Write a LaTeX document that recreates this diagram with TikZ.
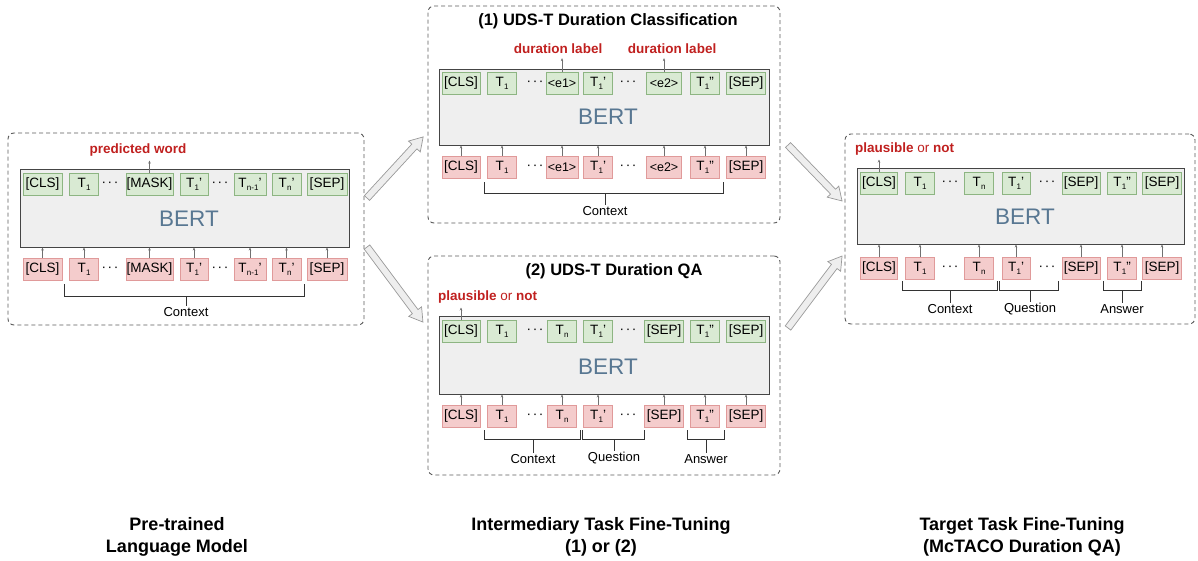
\documentclass[tikz,border=0pt]{standalone}
\usepackage{fontspec}
\setmainfont{Liberation Sans}
\usetikzlibrary{arrows.meta,calc}
\definecolor{gfill}{HTML}{D9EAD3}
\definecolor{gline}{HTML}{8DB582}
\definecolor{pfill}{HTML}{F4CCCC}
\definecolor{pline}{HTML}{E09A9A}
\definecolor{bfill}{HTML}{EFEFEF}
\definecolor{bline}{HTML}{454545}
\definecolor{btxt}{HTML}{587792}
\definecolor{lred}{HTML}{C0201F}
\definecolor{dgray}{HTML}{5A5A5A}
\definecolor{sgray}{HTML}{707070}
\definecolor{agray}{HTML}{999999}
\definecolor{afill}{HTML}{EEEEEE}
\newcommand{\Tsub}[1]{T\kern0.3pt\raisebox{-3.2pt}{\fontsize{8}{8}\selectfont #1}}
\newcommand{\tdots}{·\kern1.6pt·\kern1.6pt·}
\begin{document}
\begin{tikzpicture}[x=1pt,y=-1pt,
  every node/.style={inner sep=1pt},
  panel/.style={draw=dgray, line width=0.9pt, dash pattern=on 4pt off 3pt, rounded corners=6pt},
  bert/.style={draw=bline, fill=bfill, line width=0.9pt},
  berttxt/.style={text=btxt, font=\fontsize{22.5}{24}\selectfont},
  gtok/.style={draw=gline, fill=gfill, line width=0.8pt, minimum height=22, inner sep=0pt, font=\fontsize{13.5}{15}\selectfont},
  ptok/.style={draw=pline, fill=pfill, line width=0.8pt, minimum height=22, inner sep=0pt, font=\fontsize{13.5}{15}\selectfont},
  etok/.style={font=\fontsize{12.5}{14}\selectfont},
  dotsnode/.style={font=\fontsize{13.5}{15}\selectfont},
  sarr/.style={draw=sgray, line width=0.5pt, -{Stealth[length=3pt,width=2.5pt]}},
  redlab/.style={text=lred, font=\fontsize{13.5}{15}\selectfont\bfseries},
  title/.style={font=\fontsize{16.5}{18}\selectfont\bfseries},
  brk/.style={draw=black!80, line width=0.8pt},
  brklab/.style={font=\fontsize{13}{15}\selectfont},
  bottomlab/.style={align=center, font=\fontsize{18}{22}\selectfont\bfseries},
  bigarrow/.style={draw=agray, fill=afill, line width=0.7pt, line join=miter}
]
\useasboundingbox (0,0) rectangle (1198,560);

% ================= Left panel =================
\node[panel, minimum width=356, minimum height=192] (Lpanel) at (186,229) {};
\node[bert, minimum width=329, minimum height=78] (Lbert) at (184.5,208) {};
\node[berttxt] (Lbt) at (189,219) {BERT};
\node[gtok, minimum width=39] (Lg1) at (42.5,184.5) {[CLS]};
\node[gtok, minimum width=29] (Lg2) at (84,184.5) {\Tsub{1}};
\node[dotsnode] (Lgd1) at (110,184.5) {\tdots};
\node[gtok, minimum width=47] (Lg3) at (149.5,184.5) {[MASK]};
\node[gtok, minimum width=28] (Lg4) at (194,184.5) {\Tsub{1}’};
\node[dotsnode] (Lgd2) at (220,184.5) {\tdots};
\node[gtok, minimum width=32] (Lg5) at (250,184.5) {\Tsub{n-1}’};
\node[gtok, minimum width=29] (Lg6) at (286.5,184.5) {\Tsub{n}’};
\node[gtok, minimum width=40] (Lg7) at (327,184.5) {[SEP]};
\node[ptok, minimum width=39] (Lp1) at (42.5,269) {[CLS]};
\node[ptok, minimum width=29] (Lp2) at (84,269) {\Tsub{1}};
\node[dotsnode] (Lpd1) at (110,269) {\tdots};
\node[ptok, minimum width=47] (Lp3) at (149.5,269) {[MASK]};
\node[ptok, minimum width=28] (Lp4) at (194,269) {\Tsub{1}’};
\node[dotsnode] (Lpd2) at (220,269) {\tdots};
\node[ptok, minimum width=32] (Lp5) at (250,269) {\Tsub{n-1}’};
\node[ptok, minimum width=29] (Lp6) at (286.5,269) {\Tsub{n}’};
\node[ptok, minimum width=40] (Lp7) at (327,269) {[SEP]};
\foreach \i in {1,...,7} \draw[sarr] (Lp\i.north) -- (Lp\i.north |- Lbert.south);
\node[redlab] (Lpred) at (138,150) {predicted word};
\draw[sarr] (Lg3.north) -- ([yshift=-3pt]Lg3.north |- Lpred.south);
\node[brklab] (Lctx) at (186,312) {Context};
\draw[brk] (64,284) -- (64,296) -- (304,296) -- (304,284);
\draw[brk] (Lctx.north |- 0,296) -- (Lctx.north);

% ================= Middle top panel =================
\node[panel, minimum width=352, minimum height=217] (Apanel) at (604,114.5) {};
\node[title] (Atitle) at (608,21) {(1) UDS-T Duration Classification};
\node[bert, minimum width=330, minimum height=76] (Abert) at (604,107) {};
\node[berttxt] (Abt) at (608,117) {BERT};
\node[gtok, minimum width=38] (Ag1) at (461,83) {[CLS]};
\node[gtok, minimum width=29] (Ag2) at (502,83) {\Tsub{1}};
\node[dotsnode] (Agd1) at (535,83) {\tdots};
\node[gtok, etok, minimum width=32] (Ag3) at (562,83) {<e1>};
\node[gtok, minimum width=29] (Ag4) at (598,83) {\Tsub{1}’};
\node[dotsnode] (Agd2) at (628,83) {\tdots};
\node[gtok, etok, minimum width=35] (Ag5) at (664,83) {<e2>};
\node[gtok, minimum width=29] (Ag6) at (705,83) {\Tsub{1}”};
\node[gtok, minimum width=39] (Ag7) at (746,83) {[SEP]};
\node[ptok, minimum width=38] (Ap1) at (461,167) {[CLS]};
\node[ptok, minimum width=29] (Ap2) at (502,167) {\Tsub{1}};
\node[dotsnode] (Apd1) at (535,167) {\tdots};
\node[ptok, etok, minimum width=32] (Ap3) at (562,167) {<e1>};
\node[ptok, minimum width=29] (Ap4) at (598,167) {\Tsub{1}’};
\node[dotsnode] (Apd2) at (628,167) {\tdots};
\node[ptok, etok, minimum width=35] (Ap5) at (664,167) {<e2>};
\node[ptok, minimum width=29] (Ap6) at (705,167) {\Tsub{1}”};
\node[ptok, minimum width=39] (Ap7) at (746,167) {[SEP]};
\foreach \i in {1,...,7} \draw[sarr] (Ap\i.north) -- (Ap\i.north |- Abert.south);
\node[redlab] (Adl1) at (558,49) {duration label};
\node[redlab] (Adl2) at (672,49) {duration label};
\draw[sarr] (Ag3.north) -- ([yshift=-3pt]Ag3.north |- Adl1.south);
\draw[sarr] (Ag5.north) -- ([yshift=-3pt]Ag5.north |- Adl2.south);
\node[brklab] (Actx) at (605,211) {Context};
\draw[brk] (484,182) -- (484,193) -- (723,193) -- (723,182);
\draw[brk] (Actx.north |- 0,193) -- (Actx.north);

% ================= Middle bottom panel =================
\node[panel, minimum width=352, minimum height=219] (Bpanel) at (604,365.5) {};
\node[title] (Btitle) at (614,271) {(2) UDS-T Duration QA};
\node[bert, minimum width=330, minimum height=78] (Bbert) at (604,355) {};
\node[berttxt] (Bbt) at (608,367) {BERT};
\node[gtok, minimum width=38] (Bg1) at (461,331) {[CLS]};
\node[gtok, minimum width=29] (Bg2) at (502,331) {\Tsub{1}};
\node[dotsnode] (Bgd1) at (535,331) {\tdots};
\node[gtok, minimum width=29] (Bg3) at (562,331) {\Tsub{n}};
\node[gtok, minimum width=29] (Bg4) at (598,331) {\Tsub{1}’};
\node[dotsnode] (Bgd2) at (628,331) {\tdots};
\node[gtok, minimum width=39] (Bg5) at (664,331) {[SEP]};
\node[gtok, minimum width=29] (Bg6) at (705,331) {\Tsub{1}”};
\node[gtok, minimum width=39] (Bg7) at (746,331) {[SEP]};
\node[ptok, minimum width=38] (Bp1) at (461,416) {[CLS]};
\node[ptok, minimum width=29] (Bp2) at (502,416) {\Tsub{1}};
\node[dotsnode] (Bpd1) at (535,416) {\tdots};
\node[ptok, minimum width=29] (Bp3) at (562,416) {\Tsub{n}};
\node[ptok, minimum width=29] (Bp4) at (598,416) {\Tsub{1}’};
\node[dotsnode] (Bpd2) at (628,416) {\tdots};
\node[ptok, minimum width=39] (Bp5) at (664,416) {[SEP]};
\node[ptok, minimum width=29] (Bp6) at (705,416) {\Tsub{1}”};
\node[ptok, minimum width=39] (Bp7) at (746,416) {[SEP]};
\foreach \i in {1,...,7} \draw[sarr] (Bp\i.north) -- (Bp\i.north |- Bbert.south);
\node[anchor=west, text=lred, font=\fontsize{13.5}{15}\selectfont] (Bplaus) at (437,297) {\textbf{plausible} or \textbf{not}};
\draw[sarr] (Bg1.north) -- ([yshift=-3pt]Bg1.north |- Bplaus.south);
\node[brklab] (Bctx) at (533,459) {Context};
\node[brklab] (Bque) at (614,458) {Question};
\node[brklab] (Bans) at (706,459) {Answer};
\draw[brk] (484,430) -- (484,439) -- (580,439) -- (580,430);
\draw[brk] (582,430) -- (582,439) -- (644,439) -- (644,430);
\draw[brk] (687,430) -- (687,439) -- (724,439) -- (724,430);
\draw[brk] (Bctx.north |- 0,439) -- (Bctx.north);
\draw[brk] (Bque.north |- 0,439) -- (Bque.north);
\draw[brk] (Bans.north |- 0,439) -- (Bans.north);

% ================= Right panel =================
\node[panel, minimum width=350, minimum height=190] (Rpanel) at (1020,229) {};
\node[bert, minimum width=327, minimum height=76] (Rbert) at (1020.5,206) {};
\node[berttxt] (Rbt) at (1025,217) {BERT};
\node[gtok, minimum width=37] (Rg1) at (879,183) {[CLS]};
\node[gtok, minimum width=29] (Rg2) at (920,183) {\Tsub{1}};
\node[dotsnode] (Rgd1) at (950,183) {\tdots};
\node[gtok, minimum width=29] (Rg3) at (979,183) {\Tsub{n}};
\node[gtok, minimum width=28] (Rg4) at (1016,183) {\Tsub{1}’};
\node[dotsnode] (Rgd2) at (1047,183) {\tdots};
\node[gtok, minimum width=38] (Rg5) at (1081,183) {[SEP]};
\node[gtok, minimum width=29] (Rg6) at (1122,183) {\Tsub{1}”};
\node[gtok, minimum width=39] (Rg7) at (1162,183) {[SEP]};
\node[ptok, minimum width=37] (Rp1) at (879,268) {[CLS]};
\node[ptok, minimum width=29] (Rp2) at (920,268) {\Tsub{1}};
\node[dotsnode] (Rpd1) at (950,268) {\tdots};
\node[ptok, minimum width=29] (Rp3) at (979,268) {\Tsub{n}};
\node[ptok, minimum width=28] (Rp4) at (1016,268) {\Tsub{1}’};
\node[dotsnode] (Rpd2) at (1047,268) {\tdots};
\node[ptok, minimum width=38] (Rp5) at (1081,268) {[SEP]};
\node[ptok, minimum width=29] (Rp6) at (1122,268) {\Tsub{1}”};
\node[ptok, minimum width=39] (Rp7) at (1162,268) {[SEP]};
\foreach \i in {1,...,7} \draw[sarr] (Rp\i.north) -- (Rp\i.north |- Rbert.south);
\node[anchor=west, text=lred, font=\fontsize{13.5}{15}\selectfont] (Rplaus) at (854,149) {\textbf{plausible} or \textbf{not}};
\draw[sarr] (Rg1.north) -- ([yshift=-3pt]Rg1.north |- Rplaus.south);
\node[brklab] (Rctx) at (950,309) {Context};
\node[brklab] (Rque) at (1030,309) {Question};
\node[brklab] (Rans) at (1122,309) {Answer};
\draw[brk] (902,281) -- (902,290) -- (997,290) -- (997,281);
\draw[brk] (999,281) -- (999,290) -- (1058,290) -- (1058,281);
\draw[brk] (1103,281) -- (1103,290) -- (1141,290) -- (1141,281);
\draw[brk] (Rctx.north |- 0,290) -- (Rctx.north);
\draw[brk] (Rque.north |- 0,290) -- (Rque.north);
\draw[brk] (Rans.north |- 0,290) -- (Rans.north);

% ================= Big block arrows =================
\coordinate (aA) at (367,198);
\coordinate (aB) at (367,247);
\coordinate (aC) at (788,145);
\coordinate (aD) at (788,328);
\begin{scope}[shift={(aA)}, rotate=47.4]
\draw[bigarrow] (0,-3.5) -- (70,-3.5) -- (70,-8) -- (83,0) -- (70,8) -- (70,3.5) -- (0,3.5) -- cycle;
\end{scope}
\begin{scope}[shift={(aB)}, rotate=-53.3]
\draw[bigarrow] (0,-3.5) -- (80.6,-3.5) -- (80.6,-8) -- (93.6,0) -- (80.6,8) -- (80.6,3.5) -- (0,3.5) -- cycle;
\end{scope}
\begin{scope}[shift={(aC)}, rotate=-46.0]
\draw[bigarrow] (0,-3.5) -- (64.8,-3.5) -- (64.8,-8) -- (77.8,0) -- (64.8,8) -- (64.8,3.5) -- (0,3.5) -- cycle;
\end{scope}
\begin{scope}[shift={(aD)}, rotate=53.1]
\draw[bigarrow] (0,-3.5) -- (77,-3.5) -- (77,-8) -- (90,0) -- (77,8) -- (77,3.5) -- (0,3.5) -- cycle;
\end{scope}

% ================= Bottom labels =================
\node[bottomlab] (lab1) at (177,537) {Pre-trained\\Language Model};
\node[bottomlab] (lab2) at (601,537) {Intermediary Task Fine-Tuning\\(1) or (2)};
\node[bottomlab] (lab3) at (1022,537) {Target Task Fine-Tuning\\(McTACO Duration QA)};
\end{tikzpicture}
\end{document}
